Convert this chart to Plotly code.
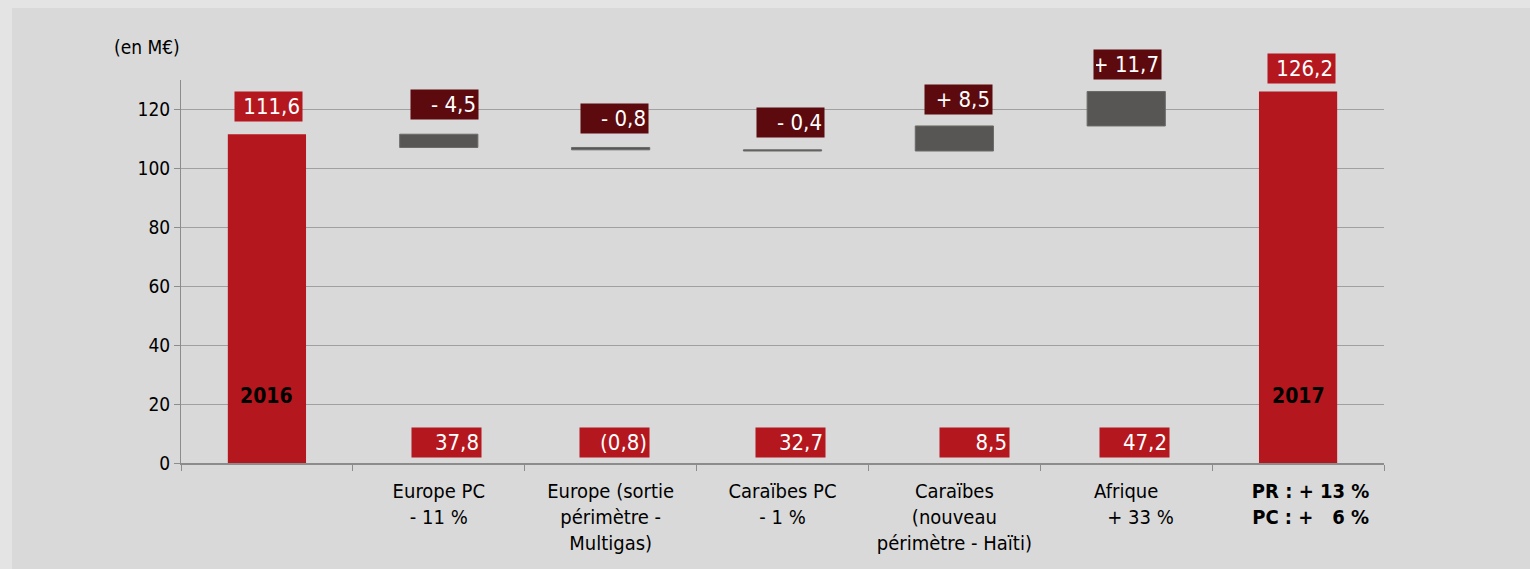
import plotly.graph_objects as go

# ---- data ----
categories = ["2016", "Europe PC", "Europe sortie", "Caraïbes PC", "Caraïbes nouveau", "Afrique", "2017"]
tick_labels = [
    "",
    "Europe PC<br>- 11 %",
    "Europe (sortie<br>périmètre -<br>Multigas)",
    "Caraïbes PC<br>- 1 %",
    "Caraïbes<br>(nouveau<br>périmètre - Haïti)",
    "Afrique<br>\u00a0\u00a0\u00a0\u00a0\u00a0+ 33 %",
    "<b>\u00a0\u00a0\u00a0\u00a0PR : + 13 %<br>\u00a0\u00a0\u00a0\u00a0PC : +\u00a0\u00a0\u00a06 %</b>",
]
measures = ["absolute", "relative", "relative", "relative", "relative", "relative", "total"]
values = [111.6, -4.5, -0.8, -0.4, 8.5, 11.7, 126.2]
top_labels = ["111,6", "- 4,5", "- 0,8", "- 0,4", "+ 8,5", "+ 11,7", "126,2"]
bottom_labels = ["", "37,8", "(0,8)", "32,7", "8,5", "47,2", ""]
year_labels = ["2016", "", "", "", "", "", "2017"]

RED = "#b5171e"
DARK = "#5c0a0e"
GREY = "#575654"
FONT = "DejaVu Sans Condensed, Open Sans, sans-serif"

fig = go.Figure()
fig.add_trace(go.Waterfall(
    x=categories, y=values, measure=measures,
    width=0.455,
    totals=dict(marker=dict(color=RED, line=dict(width=0))),
    increasing=dict(marker=dict(color=GREY, line=dict(color="#6a6a68", width=1))),
    decreasing=dict(marker=dict(color=GREY, line=dict(color="#6a6a68", width=1))),
    connector=dict(visible=False),
    hoverinfo="skip",
))

# compute tops of each bar from the data
tops = []
running = 0.0
for m, v in zip(measures, values):
    if m == "absolute":
        running = v
        tops.append(v)
    elif m == "total":
        tops.append(running)
    else:
        prev = running
        running += v
        tops.append(max(prev, running))

annotations = []
top_shift = [28, 30, 29, 27, 26, 27, 23]
top_xshift = [2, 6, 4, 8, 4, 1, 3]
for i, c in enumerate(categories):
    bg = RED if measures[i] != "relative" else DARK
    annotations.append(dict(
        x=i, y=tops[i], xref="x", yref="y", text=top_labels[i], showarrow=False,
        yshift=top_shift[i], xshift=top_xshift[i], yanchor="middle",
        font=dict(family=FONT, size=22, color="white"),
        bgcolor=bg, width=63, height=25, align="right", borderpad=2,
    ))
bot_xshift = [0, 8, 4, 8, 20, 8, 0]
for i, c in enumerate(categories):
    if bottom_labels[i]:
        annotations.append(dict(
            x=i, y=6.9, xref="x", yref="y", text=bottom_labels[i], showarrow=False,
            xshift=bot_xshift[i], yanchor="middle",
            font=dict(family=FONT, size=22, color="white"),
            bgcolor=RED, width=65, height=25, align="right", borderpad=2,
        ))
    if year_labels[i]:
        annotations.append(dict(
            x=i, y=22.7, xref="x", yref="y", text="<b>" + year_labels[i] + "</b>",
            showarrow=False, yanchor="middle",
            font=dict(family=FONT, size=21, color="black"),
        ))
annotations.append(dict(
    x=-0.028, y=1.086, xref="paper", yref="paper", text="(en M€)", showarrow=False,
    xanchor="center", yanchor="middle", font=dict(family=FONT, size=19, color="black"),
))

fig.update_layout(
    width=1530, height=569,
    margin=dict(l=181, r=146, t=80, b=106),
    paper_bgcolor="#e4e4e4",
    plot_bgcolor="#d9d9d9",
    showlegend=False,
    font=dict(family=FONT, size=20, color="black"),
    annotations=annotations,
    shapes=[dict(type="rect", xref="paper", yref="paper", x0=-169/1203, x1=1.13,
                 y0=-0.3, y1=455 / 383, fillcolor="#d9d9d9",
                 line=dict(width=0), layer="below")],
    xaxis=dict(
        type="category", tickson="boundaries", ticks="outside", ticklen=6,
        tickcolor="#8c8c8c", showline=True, linecolor="#8c8c8c", linewidth=2,
        tickvals=categories, ticktext=tick_labels, showgrid=False,
        tickfont=dict(family=FONT, size=20, color="black"), range=[-0.5, 6.5],
        ticklabelstandoff=9,
    ),
    yaxis=dict(
        range=[0, 130], tickvals=[0, 20, 40, 60, 80, 100, 120],
        ticks="outside", ticklen=6, tickcolor="#8c8c8c",
        showline=True, linecolor="#8c8c8c", linewidth=1,
        showgrid=True, gridcolor="#a0a0a0", gridwidth=1, zeroline=False,
        tickfont=dict(family=FONT, size=19, color="black"),
    ),
)

fig.write_html(
    "out.html",
    config={"displayModeBar": False},
    post_script="document.body.style.margin='0';document.body.style.background='#e4e4e4';",
)
